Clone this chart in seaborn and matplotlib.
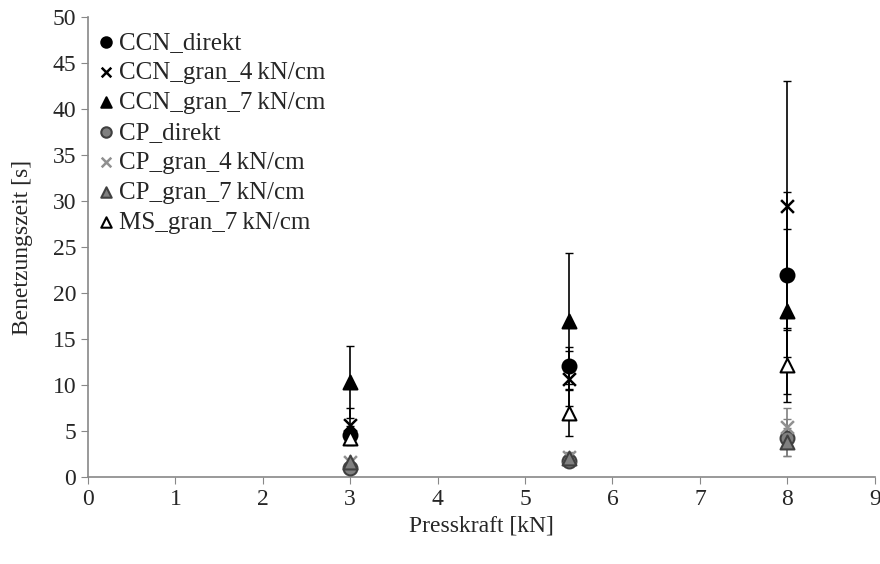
import numpy as np
import pandas as pd
import matplotlib
matplotlib.use("Agg")
import matplotlib.pyplot as plt
import seaborn as sns

# values
press = [3, 5.5, 8]
series = ["CCN_direkt", "CCN_gran_4\u2009kN/cm", "CCN_gran_7\u2009kN/cm",
          "CP_direkt", "CP_gran_4\u2009kN/cm", "CP_gran_7\u2009kN/cm",
          "MS_gran_7\u2009kN/cm"]
ccn_direkt = [4.6, 12.1, 22.0]
ccn_gran4 = [5.7, 10.7, 29.5]
ccn_gran7 = [10.3, 17.0, 18.0]
cp_direkt = [1.0, 1.8, 4.3]
cp_gran4 = [1.6, 2.2, 5.5]
cp_gran7 = [1.6, 2.1, 3.8]
ms_gran7 = [4.3, 7.0, 12.2]

ccn_direkt_err = [1.0, 2.0, 9.0]
ccn_gran4_err = [1.8, 3.0, 13.5]
ccn_gran7_err = [3.9, 7.4, 9.0]
cp_direkt_err = [0.4, 0.5, 2.0]
cp_gran4_err = [0.4, 0.5, 2.0]
cp_gran7_err = [0.4, 0.5, 1.5]
ms_gran7_err = [0.8, 2.5, 4.0]

values = [ccn_direkt, ccn_gran4, ccn_gran7, cp_direkt, cp_gran4, cp_gran7, ms_gran7]
errors = [ccn_direkt_err, ccn_gran4_err, ccn_gran7_err, cp_direkt_err,
          cp_gran4_err, cp_gran7_err, ms_gran7_err]

styles = [
    dict(marker="o", color="black", edgecolor="black", s=100, ecol="black"),
    dict(marker="x", color="black", s=85, ecol="black"),
    dict(marker="^", color="black", edgecolor="black", s=100, ecol="black"),
    dict(marker="o", color="#808080", edgecolor="#404040", s=100, ecol="#808080"),
    dict(marker="x", color="#909090", s=85, ecol="#808080"),
    dict(marker="^", color="#808080", edgecolor="#404040", s=100, ecol="#808080"),
    dict(marker="^", color="white", edgecolor="black", s=100, ecol="black"),
]

sns.set_style("white")
plt.rcParams["font.family"] = ["Liberation Serif", "DejaVu Serif"]
plt.rcParams["font.size"] = 17

fig = plt.figure(figsize=(8.8, 5.64), dpi=100)
ax = fig.add_axes([0.1, 0.154, 0.894, 0.816])

for name, vals, errs, st in zip(series, values, errors, styles):
    ax.errorbar(press, vals, yerr=errs, fmt="none", ecolor=st["ecol"],
                elinewidth=1.2, capsize=3, capthick=1, zorder=1)

for name, vals, st in zip(series, values, styles):
    df = pd.DataFrame({"x": press, "y": vals})
    kw = dict(marker=st["marker"], s=st["s"], zorder=3, label=name)
    if st["marker"] == "x":
        kw.update(color=st["color"], linewidth=1.8)
    else:
        kw.update(color=st["color"], edgecolor=st["edgecolor"], linewidth=1.5)
    sns.scatterplot(data=df, x="x", y="y", ax=ax, **kw)

ax.set_xlim(0, 9)
ax.set_ylim(0, 50)
ax.set_xticks(range(0, 10))
ax.set_yticks(range(0, 51, 5))
ax.set_xlabel("Presskraft [kN]", fontsize=17, labelpad=4)
ax.set_ylabel("Benetzungszeit [s]", fontsize=17, labelpad=14)
ax.tick_params(axis="both", direction="out", length=5, color="#888888",
               labelsize=17, bottom=True, left=True)

for side in ["top", "right"]:
    ax.spines[side].set_visible(False)
for side in ["left", "bottom"]:
    ax.spines[side].set_color("#888888")
    ax.spines[side].set_linewidth(1.2)

leg = ax.legend(loc="upper left", frameon=False, fontsize=18,
                handlelength=0.8, handletextpad=0.12, labelspacing=0.3,
                borderaxespad=0.0, bbox_to_anchor=(-0.003, 0.99),
                markerscale=0.75)

fig.savefig("out.png", dpi=100)
